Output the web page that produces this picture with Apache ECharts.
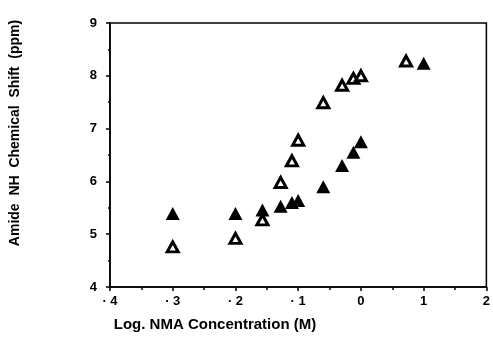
<!doctype html>
<html lang="en">
  <head>
    <meta charset="UTF-8" />
    <title>Amide NH chemical shift</title>
    <script src="https://fastly.jsdelivr.net/npm/echarts@6/dist/echarts.min.js"></script>
    <style>
      * { margin: 0; padding: 0; }
      html, body, #chart { width: 100%; height: 100%; overflow: hidden; background: #fff; }
    </style>
  </head>
  <body>
    <div id="chart"></div>
    <script>
      // log [NMA] (M) vs NH shift (ppm)
      const openX = [-3, -2, -1.57, -1.28, -1.1, -1, -0.6, -0.3, -0.12, 0, 0.72];
      const openY = [4.76, 4.92, 5.27, 5.98, 6.39, 6.78, 7.49, 7.82, 7.95, 8.0, 8.28];
      const filledX = [-3, -2, -1.57, -1.28, -1.1, -1, -0.6, -0.3, -0.12, 0, 1];
      const filledY = [5.39, 5.39, 5.46, 5.53, 5.6, 5.64, 5.9, 6.3, 6.55, 6.75, 8.24];

      const xTitle = 'Log. NMA Concentration (M)';
      const yTitle = 'Amide  NH  Chemical  Shift  (ppm)';

      const font = 'Liberation Sans, Arial, sans-serif';

      function pairs(xs, ys) {
        return xs.map((x, i) => [x, ys[i]]);
      }

      const chart = echarts.init(document.getElementById('chart'));
      chart.setOption({
        animation: false,
        grid: {
          left: 110, right: 5, top: 23, bottom: 57,
          show: true, borderColor: '#000', borderWidth: 1.5
        },
        xAxis: {
          type: 'value', min: -4, max: 2, interval: 1,
          axisLine: { onZero: false, lineStyle: { color: '#000', width: 1.5 } },
          axisTick: { length: 4, lineStyle: { color: '#000', width: 1.5 } },
          minorTick: { show: true, splitNumber: 2, length: 3, lineStyle: { color: '#000', width: 1.5 } },
          splitLine: { show: false },
          axisLabel: {
            color: '#000', fontFamily: font, fontWeight: 'bold', fontSize: 13, margin: 8,
            formatter: (v) => (v < 0 ? '\u00b7 ' + Math.abs(v) : String(v))
          }
        },
        yAxis: {
          type: 'value', min: 4, max: 9, interval: 1,
          axisLine: { onZero: false, lineStyle: { color: '#000', width: 1.5 } },
          axisTick: { length: 4, lineStyle: { color: '#000', width: 1.5 } },
          minorTick: { show: true, splitNumber: 2, length: 2, lineStyle: { color: '#000', width: 1.5 } },
          splitLine: { show: false },
          axisLabel: { color: '#000', fontFamily: font, fontWeight: 'bold', fontSize: 13, margin: 13 }
        },
        graphic: [
          {
            type: 'text', x: 215, y: 325,
            style: { text: xTitle, fill: '#000', font: 'bold 15px ' + font, align: 'center', verticalAlign: 'middle' }
          },
          {
            type: 'text', x: 15, y: 133, rotation: Math.PI / 2, originX: 0, originY: 0,
            style: { text: yTitle, fill: '#000', font: 'bold 14px ' + font, align: 'center', verticalAlign: 'middle' }
          }
        ],
        series: [
          {
            type: 'scatter', symbol: 'triangle', symbolSize: [11, 10],
            data: pairs(openX, openY),
            itemStyle: { color: '#fff', borderColor: '#000', borderWidth: 3, opacity: 1 }
          },
          {
            type: 'scatter', symbol: 'triangle', symbolSize: [14, 13],
            data: pairs(filledX, filledY),
            itemStyle: { color: '#000', opacity: 1 }
          }
        ]
      });
    </script>
  </body>
</html>
